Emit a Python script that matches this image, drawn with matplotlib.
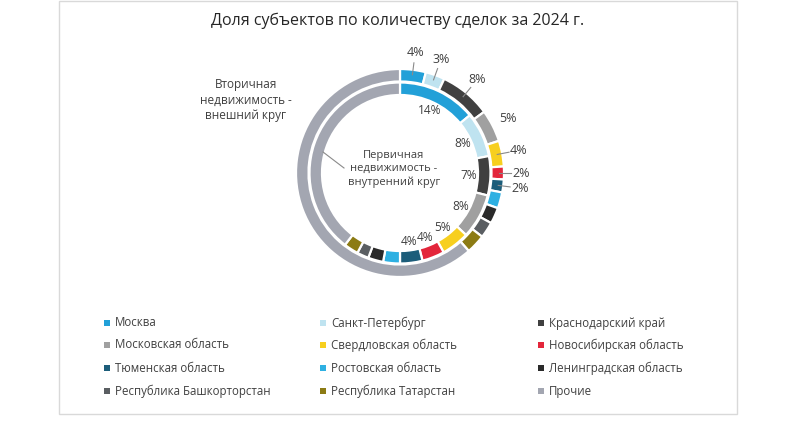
import numpy as np
import matplotlib
matplotlib.use("Agg")
import matplotlib.pyplot as plt
from matplotlib.patches import Rectangle

plt.rcParams['font.family'] = ['Open Sans', 'DejaVu Sans']

categories = ['Москва', 'Санкт-Петербург', 'Краснодарский край',
              'Московская область', 'Свердловская область', 'Новосибирская область',
              'Тюменская область', 'Ростовская область', 'Ленинградская область',
              'Республика Башкорторстан', 'Республика Татарстан', 'Прочие']
colors = ['#22a0d8', '#bfe3f0', '#404040', '#a0a0a0', '#f7cf1f', '#e3263b',
          '#1c5d7a', '#2eb0e2', '#2a2a2a', '#5a5e62', '#8c7b14', '#a3a6b1']
outer_values = [4, 3, 8, 5, 4, 2, 2, 2.5, 2.5, 2.5, 3, 61.5]
inner_values = [14, 8, 7, 8, 5, 4, 4, 3, 2.7, 2.1, 2.6, 39.6]
outer_labels = ['4%', '3%', '8%', '5%', '4%', '2%', '2%', '', '', '', '', '']
inner_labels = ['14%', '8%', '7%', '8%', '5%', '4%', '4%', '', '', '', '', '']
title = 'Доля субъектов по количеству сделок за 2024 г.'

W, H = 800, 425
fig = plt.figure(figsize=(W / 100, H / 100), dpi=100)
ax = fig.add_axes([0, 0, 1, 1])

cx, cy = 400, H - 173
R_out, w_out = 104, 12.5
R_in, w_in = 90.5, 12.5
txt = '#404040'

ax.pie(outer_values, colors=colors, radius=R_out, center=(cx, cy), startangle=90,
       counterclock=False, frame=True,
       wedgeprops=dict(width=w_out, edgecolor='white', linewidth=1.6))
ax.pie(inner_values, colors=colors, radius=R_in, center=(cx, cy), startangle=90,
       counterclock=False, frame=True,
       wedgeprops=dict(width=w_in, edgecolor='white', linewidth=1.6))

def mid_angles(vals):
    v = np.asarray(vals, float)
    frac = (np.cumsum(v) - v / 2) / v.sum()
    return np.deg2rad(90 - 360 * frac)

for ang, lab, i in zip(mid_angles(outer_values), outer_labels, range(len(outer_labels))):
    if not lab:
        continue
    if i != 3:
        ax.plot([cx + 99 * np.cos(ang), cx + 111 * np.cos(ang)],
                [cy + 99 * np.sin(ang), cy + 111 * np.sin(ang)],
                color='#8a8a8a', lw=0.8)
    ax.text(cx + 121 * np.cos(ang), cy + 121 * np.sin(ang), lab, ha='center',
            va='center', fontsize=9, color=txt)

for ang, lab in zip(mid_angles(inner_values), inner_labels):
    if not lab:
        continue
    ax.text(cx + 69 * np.cos(ang), cy + 69 * np.sin(ang), lab, ha='center',
            va='center', fontsize=8.6, color=txt)

ax.text(394, H - 169, 'Первичная\nнедвижимость -\nвнутренний круг', ha='center',
        va='center', fontsize=8, color=txt, linespacing=1.3)
ax.plot([344, 323], [H - 168, H - 152], color='#8a8a8a', lw=0.8)
ax.text(246, H - 100, 'Вторичная\nнедвижимость -\nвнешний круг', ha='center',
        va='center', fontsize=8.5, color=txt, linespacing=1.25)

ax.text(398, H - 21, title, ha='center', va='center', fontsize=11.5, color='#262626')

# legend (row-major, 3 columns)
col_x = [107, 323, 541]
row_y = [323, 345, 368, 391]
for k, (name, c) in enumerate(zip(categories, colors)):
    r, col = divmod(k, 3)
    x, y = col_x[col], H - row_y[r]
    ax.scatter([x], [y], marker='s', s=13, color=c, linewidths=0)
    ax.text(x + 8, y, name, ha='left', va='center', fontsize=8.3, color=txt)

ax.add_patch(Rectangle((59, H - 414), 678, 413, fill=False, edgecolor='#d9d9d9', lw=1))

ax.set_xlim(0, W)
ax.set_ylim(0, H)
ax.set_aspect('auto')
ax.axis('off')
fig.savefig('out.png', dpi=100)
